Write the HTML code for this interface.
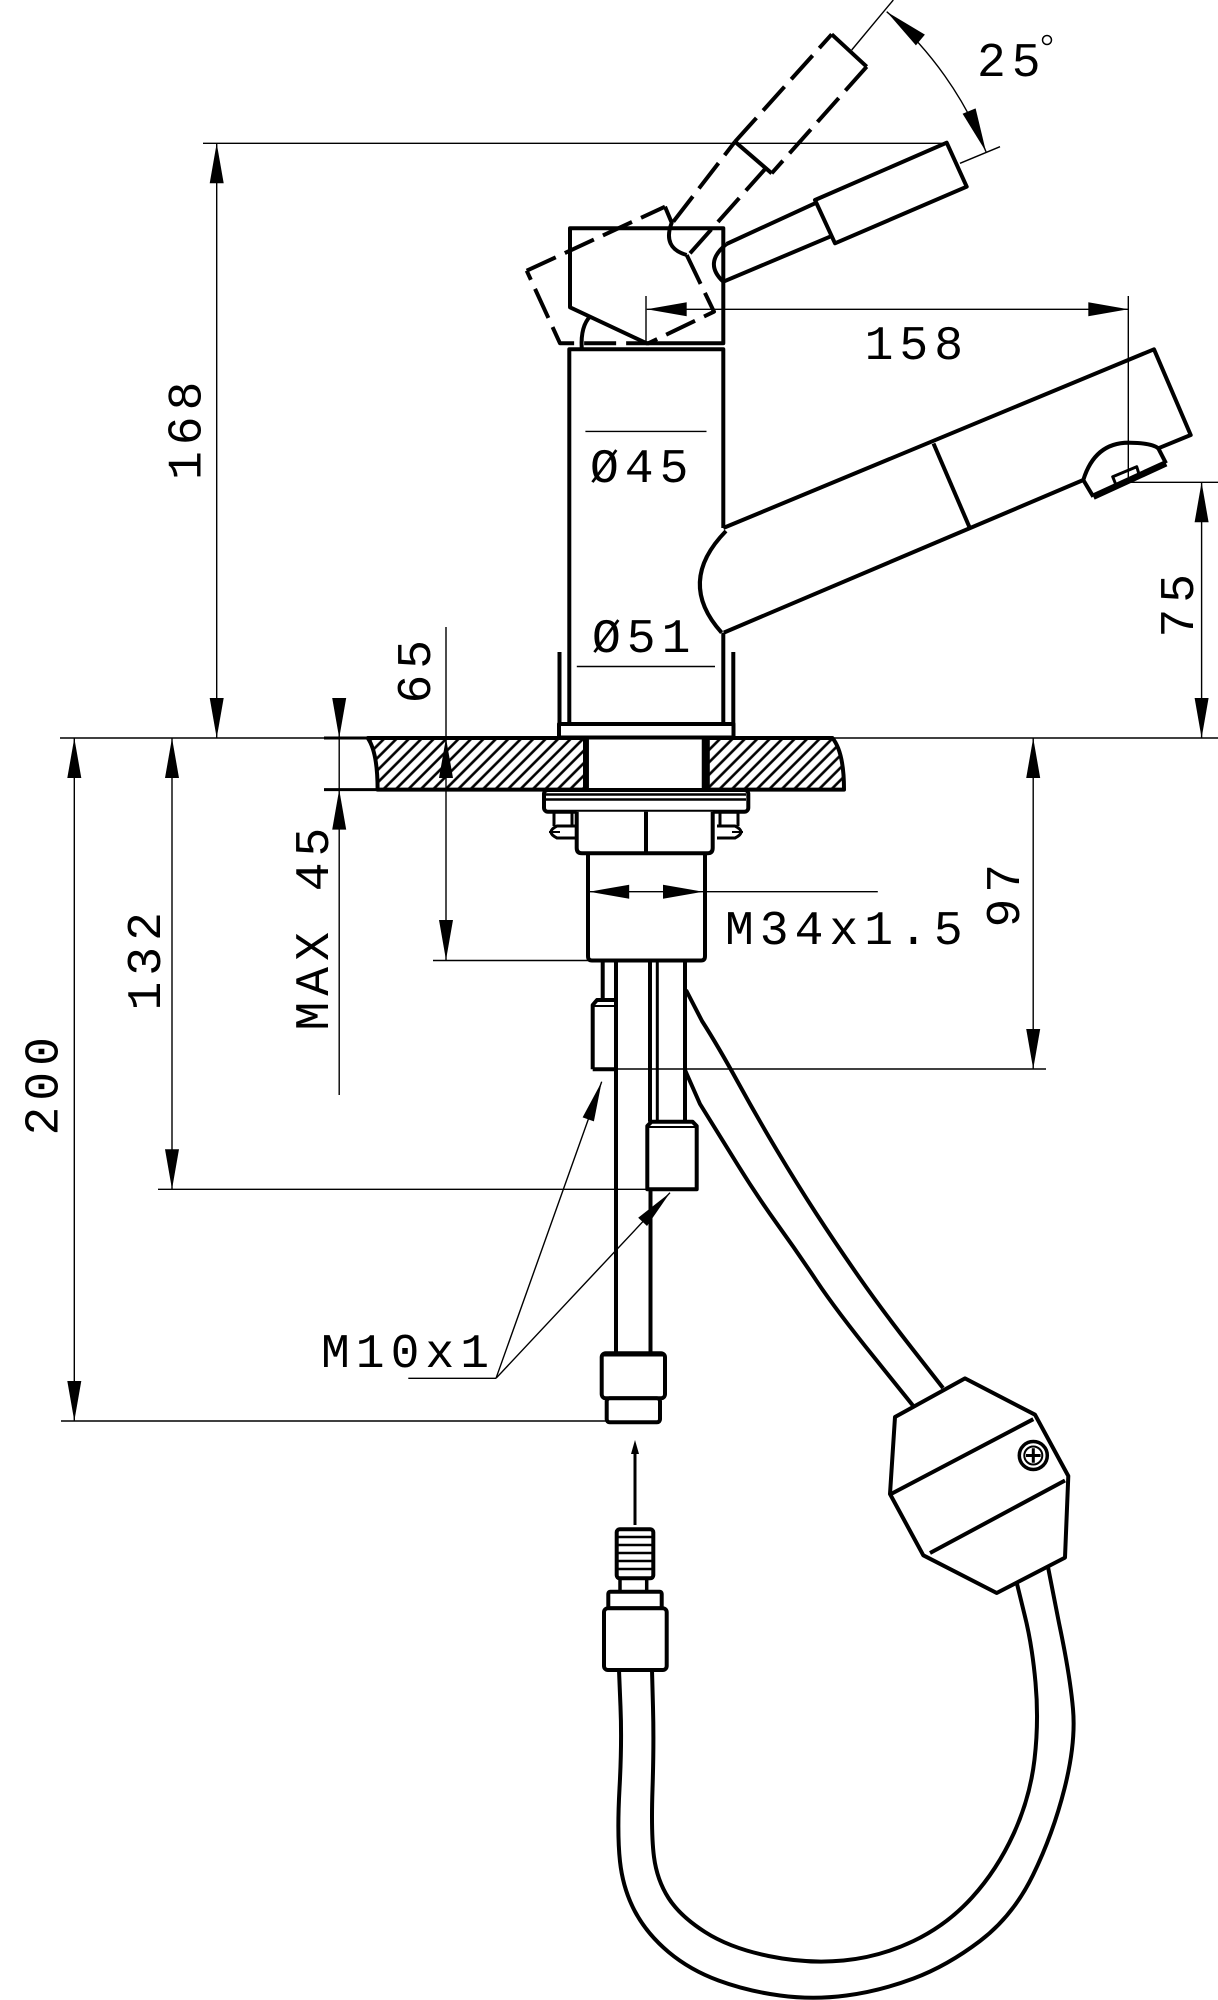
<!DOCTYPE html>
<html><head><meta charset="utf-8"><style>
html,body{margin:0;padding:0;background:#fff;}
svg{display:block;}
text{font-family:"Liberation Mono","DejaVu Sans Mono",monospace;font-size:48px;letter-spacing:6px;fill:#000;}
</style></head><body>
<svg width="1218" height="2000" viewBox="0 0 1218 2000" xmlns="http://www.w3.org/2000/svg">
<defs>
<pattern id="h" width="8.8" height="20" patternUnits="userSpaceOnUse" patternTransform="rotate(45)">
<line x1="2" y1="-5" x2="2" y2="25" stroke="#000" stroke-width="2.6"/>
</pattern>
</defs>

<!-- thin dimension lines -->
<g fill="none" stroke="#000" stroke-width="1.4">
<path d="M203 143.3 H946.7"/>
<path d="M216.7 143.3 V738"/>
<path d="M851.7 50 L893.3 0"/>
<path d="M960 163.3 L1000 146.7"/>
<path d="M886.7 11.7 A364 364 0 0 1 986 151.7"/>
<path d="M646 296 V345"/>
<path d="M646.7 309.3 H1128.3"/>
<path d="M1128.3 296 V482.3"/>
<path d="M1128.3 482.3 H1218"/>
<path d="M1201.6 482.3 V738"/>
<path d="M585.4 431.4 H706.5"/>
<path d="M576.8 666.5 H715"/>
<path d="M60 738 H1218"/>
<path d="M74.3 738 V1421"/>
<path d="M61 1421 H606.7"/>
<path d="M172 738 V1189.3"/>
<path d="M158 1189.3 H647.3"/>
<path d="M339.2 698 V1095"/>
<path d="M446 627 V960"/>
<path d="M433 960.5 H588"/>
<path d="M589.2 891.7 H877.8"/>
<path d="M1033.2 738 V1069"/>
<path d="M593 1069 H1046"/>
<path d="M408.3 1378.3 H496"/>
<path d="M496 1378.3 L601.7 1081.7"/>
<path d="M496 1378.3 L670 1192.7"/>
</g>
<g fill="none" stroke="#000" stroke-width="3">
<path d="M324 738 H372"/>
<path d="M324 789.6 H380"/>
</g>

<!-- arrowheads -->
<g fill="#000" stroke="none">
<polygon points="216.7,143.3 209.7,183.3 223.7,183.3"/>
<polygon points="216.7,738 209.7,698 223.7,698"/>
<polygon points="74.3,738 67.3,778 81.3,778"/>
<polygon points="74.3,1421 67.3,1381 81.3,1381"/>
<polygon points="172,738 165,778 179,778"/>
<polygon points="172,1189.3 165,1149.3 179,1149.3"/>
<polygon points="339.2,738 332.2,698 346.2,698"/>
<polygon points="339.2,789.6 332.2,829.6 346.2,829.6"/>
<polygon points="446,738 439,778 453,778"/>
<polygon points="446,960 439,920 453,920"/>
<polygon points="1033.2,738 1026.2,778 1040.2,778"/>
<polygon points="1033.2,1069 1026.2,1029 1040.2,1029"/>
<polygon points="1201.6,482.3 1194.6,522.3 1208.6,522.3"/>
<polygon points="1201.6,738 1194.6,698 1208.6,698"/>
<polygon points="646.7,309.3 686.7,302.3 686.7,316.3"/>
<polygon points="1128.3,309.3 1088.3,302.3 1088.3,316.3"/>
<polygon points="589.2,891.7 629.2,884.7 629.2,898.7"/>
<polygon points="703,891.7 663,884.7 663,898.7"/>
<polygon points="886.7,11.7 924.9,34.6 915.9,45.4"/>
<polygon points="986,151.7 975.6,108.4 962.6,113.8"/>
<polygon points="601.7,1081.7 593.9,1121.4 582.6,1117.4"/>
<polygon points="670,1192.7 647,1226 638.2,1217.8"/>
<polygon points="635,1440 631,1454 639,1454"/>
</g>

<!-- counter -->
<path d="M367.7 738 H585 V789.6 H377.6 Q377.6 752 367.7 738 Z" fill="url(#h)" stroke="#000" stroke-width="4" stroke-linejoin="round"/>
<path d="M707.8 738 H832.4 Q844 752 844 789.6 H707.8 Z" fill="url(#h)" stroke="#000" stroke-width="4" stroke-linejoin="round"/>
<rect x="587" y="738" width="118" height="52" fill="#fff"/>

<!-- main outlines -->
<g fill="none" stroke="#000" stroke-width="4" stroke-linejoin="round">
<!-- dashed tilted lever -->
<g stroke-dasharray="32 10">
<path d="M526.7 270.7 L665 206.7"/>
<path d="M686.7 255 L714 311.7 L648.3 343.3 L560 343.3 L526.7 270.7"/>
<path d="M673.3 221.7 L735 141.7"/>
<path d="M690 253.3 L766 168"/>
<path d="M735 141.7 L831.7 34.3"/>
<path d="M866.7 66.7 L771.7 173.3"/>
</g>
<path d="M665 206.7 L671.7 222.7 Q662 248 686.7 255"/>
<path d="M831.7 34.3 L866.7 66.7"/>
<path d="M771.7 173.3 L735 141.7"/>

<!-- housing -->
<path d="M570 307.3 V228.3 H723.3 V343.3 H646.7 Z"/>
<path d="M581.7 348 Q580.5 326 590.5 316"/>

<!-- solid lever -->
<path d="M726.5 244 L815 203.3"/>
<path d="M723.3 281.7 L830 236.7"/>
<path d="M726.5 244 Q703 263 723.3 281.7"/>
<path d="M815 200 L946.7 142.7 L966.7 186.7 L835 243.3 Z"/>

<!-- body -->
<path d="M723.3 528 V349.3 H569.3 V724"/>
<path d="M723.3 632.6 V724"/>
<path d="M559.5 652 V724"/>
<path d="M733.3 652 V724"/>
<rect x="559" y="724" width="174.5" height="13.5" fill="#fff"/>

<!-- spout -->
<path d="M723.3 528 L1154 349.3 L1190.7 435 L1158.3 448.3 L1166 463.3"/>
<path d="M1083.3 480 Q1095 442 1130 442.7 Q1152 443 1158.3 448.3"/>
<path d="M1083.3 480 L1093.3 496.7"/>
<path d="M1093.3 496.7 L1166 463.3" stroke-width="6.5"/>
<path d="M1112.7 476.7 L1136.7 466.7 L1139.3 475 L1116 485 Z" stroke-width="3"/>
<path d="M1083.3 480 L723.8 632.6"/>
<path d="M933.5 443.5 L970 528.4"/>
<path d="M726 531 Q676 582 721.6 632.6"/>

<!-- shank in hole -->
<path d="M586.7 738 V790" stroke-width="4.5"/>
<path d="M704 738 V790" stroke-width="4.5"/>

<!-- washer -->
<rect x="544" y="790" width="204.3" height="21.7" rx="4" fill="#fff"/>
<path d="M546 794.5 H746 M546 799.5 H746" stroke-width="2.5"/>
<!-- nut -->
<path d="M576.7 811.7 V848 Q576.7 853.3 582 853.3 H707.4 Q712.7 853.3 712.7 848 V811.7" fill="#fff"/>
<path d="M646 811.7 V853.3"/>
<!-- screws -->
<path d="M554 812 V826 M572 812 V826" stroke-width="3"/>
<path d="M575 826 H557 Q545 832 557 838 H575" stroke-width="3"/>
<path d="M549 832 H560" stroke-width="2"/>
<path d="M738 812 V826 M720 812 V826" stroke-width="3"/>
<path d="M717 826 H735 Q747 832 735 838 H717" stroke-width="3"/>
<path d="M732 832 H743" stroke-width="2"/>
<!-- shank -->
<path d="M588 853 V956 Q588 960.5 592 960.5 H701 Q705 960.5 705 956 V853"/>

<!-- tubes -->
<path d="M602.7 960.5 V1000"/>
<path d="M616 960.5 V1353"/>
<path d="M592.7 1069.3 V1005 L597 1000 H615 M592.7 1069.3 H615"/>
<path d="M594 1006 H615" stroke-width="2"/>
<path d="M650 960.5 V1121.7"/>
<path d="M657.3 960.5 V1121.7" stroke-width="3"/>
<path d="M685 960.5 V1121.7"/>
<path d="M647.3 1189.3 V1126 L651.5 1121.7 H692.5 L696.7 1126 V1189.3 Z"/>
<path d="M649 1127 H695" stroke-width="2"/>
<path d="M650.5 1189.3 V1353"/>

<!-- upper connector -->
<rect x="601.7" y="1353.3" width="63.3" height="45" rx="4" fill="#fff"/>
<path d="M603 1355 H664" stroke-width="3"/>
<rect x="606.7" y="1398.3" width="53.3" height="24" rx="3" fill="#fff"/>
<path d="M635 1452 V1525" stroke-width="3"/>

<!-- lower connector -->
<rect x="616.7" y="1529.3" width="36.6" height="49" rx="3" fill="#fff"/>
<path d="M616.7 1537 H653.3 M616.7 1545 H653.3 M616.7 1553 H653.3 M616.7 1561 H653.3 M616.7 1569 H653.3" stroke-width="2.5"/>
<path d="M620 1578.3 V1591.7 M646.7 1578.3 V1591.7" stroke-width="3.5"/>
<rect x="608.3" y="1591.7" width="53.4" height="16.6" rx="2" fill="#fff"/>
<rect x="604" y="1608.3" width="62.7" height="61.7" rx="4" fill="#fff"/>

<!-- upper hose -->
<path d="M686 990 L702 1021 Q718 1046 737.5 1081.5 Q757 1117 777 1150.5 Q797 1184 816.5 1214 Q836 1244 859 1277 Q882 1310 912.5 1349 L943 1388"/>
<path d="M685 1070 L700 1104 Q718 1133 737.5 1164.5 Q757 1196 777 1223.8 Q797 1251.5 816.5 1280.8 Q836 1310 874.5 1357.8 L913 1405.6"/>

<!-- lower hose -->
<path d="M1048 1567 L1059 1623 Q1070 1675 1073 1709 Q1076 1743 1064.5 1788.5 Q1053 1834 1033 1875 Q1013 1916 980 1941 Q947 1966 913.5 1978.5 Q880 1991 846.5 1995.5 Q813 2000 780 1995.5 Q747 1991 718.5 1980.5 Q690 1970 668.5 1952 Q647 1934 635 1911.5 Q623 1889 620 1861.5 Q617 1834 619.5 1788.5 Q622 1743 620.5 1707 L619 1670"/>
<path d="M1016.7 1582.6 L1024.5 1614.5 Q1032 1644 1035.5 1682.5 Q1039 1721 1034.5 1759.5 Q1030 1798 1013.5 1834 Q997 1870 972 1897.5 Q947 1925 913.5 1941 Q880 1957 843.5 1960.5 Q807 1964 768.5 1956 Q730 1948 705 1932 Q680 1916 668.5 1898 Q657 1880 654 1857 Q651 1834 652.5 1789 Q654 1744 653 1707.5 L652 1670"/>

<!-- clamp -->
<polygon points="895,1417 965,1378.4 1035,1414.7 1068.3,1476 1065,1557.6 996.7,1593 923.3,1555.3 890,1494" fill="#fff"/>
<path d="M891 1494 L1033.3 1419.2"/>
<path d="M930 1553 L1065 1480.5"/>
<circle cx="1033.3" cy="1455.5" r="14" stroke-width="3.5"/>
<circle cx="1033.3" cy="1455.5" r="9" stroke-width="2"/>
<path d="M1026 1455.5 H1040.6 M1033.3 1448.2 V1462.8" stroke-width="3"/>
</g>

<!-- text -->
<text x="864.6" y="359">158</text>
<text x="590" y="482">Ø45</text>
<text x="592" y="652">Ø51</text>
<text x="725" y="944">M34x1.5</text>
<text x="321" y="1367">M10x1</text>
<text x="977" y="76">25</text>
<circle cx="1047" cy="40" r="4.5" fill="none" stroke="#000" stroke-width="1.5"/>
<text transform="translate(200.4,480) rotate(-90)">168</text>
<text transform="translate(57.3,1135.5) rotate(-90)">200</text>
<text transform="translate(160,1010.5) rotate(-90)">132</text>
<text transform="translate(328,1030.5) rotate(-90)">MAX 45</text>
<text transform="translate(430,703.5) rotate(-90)">65</text>
<text transform="translate(1019,927.5) rotate(-90)">97</text>
<text transform="translate(1193,637.5) rotate(-90)">75</text>
</svg>
</body></html>
